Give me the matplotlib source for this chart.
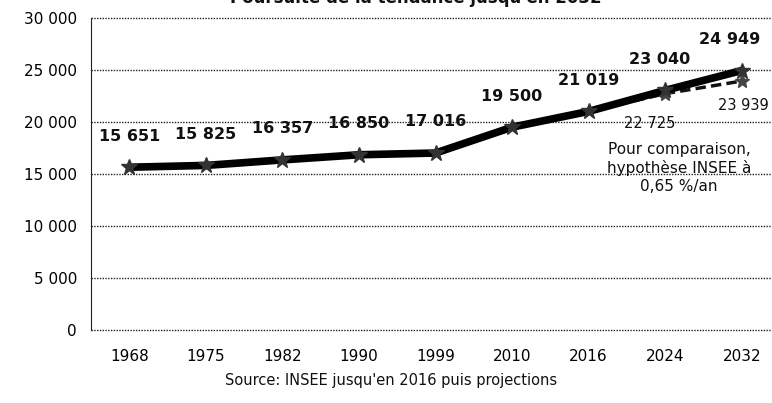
import matplotlib
matplotlib.use("Agg")
import matplotlib.pyplot as plt

years = ["1968", "1975", "1982", "1990", "1999", "2010", "2016", "2024", "2032"]
population = [15651, 15825, 16357, 16850, 17016, 19500, 21019, 23040, 24949]
insee_years = ["2016", "2024", "2032"]
insee_values = [21019, 22725, 23939]
y_ticks = [0, 5000, 10000, 15000, 20000, 25000, 30000]

def fmt(v):
    return f"{v:,}".replace(",", " ")

fig = plt.figure(figsize=(7.72, 4.03), dpi=100)
ax = fig.add_axes([91/772, 73/403, (780-91)/772, 312/403])

xpos = list(range(len(years)))
ins_x = [years.index(y) for y in insee_years]

ax.set_ylim(0, 30000)
ax.set_xlim(-0.5, len(years) - 0.5)
for t in y_ticks:
    ax.axhline(t, color="#222222", lw=1.0, ls=(0, (1, 1)), zorder=1, clip_on=False)

ax.plot(ins_x, insee_values, color="#111111", lw=2.5, ls=(0, (3, 1.5)), zorder=3)
ax.plot(ins_x[1:], insee_values[1:], ls="none", marker="*", ms=11, color="#444444", zorder=3)
ax.plot(xpos, population, color="black", lw=5.5, solid_capstyle="round", zorder=4,
        marker="*", ms=12, markerfacecolor="#333333", markeredgecolor="#333333")

offsets = [(0, 17)] * 7 + [(-4, 17), (-9, 17)]
for i, v in enumerate(population):
    ax.annotate(fmt(v), (i, v), xytext=offsets[i], textcoords="offset points",
                ha="center", va="bottom", fontsize=11.5, fontweight="bold",
                color="#111111", zorder=5)

ax.annotate(fmt(insee_values[1]), (ins_x[1], insee_values[1]), xytext=(-11, -16),
            textcoords="offset points", ha="center", va="top", fontsize=10.5,
            color="#111111")
ax.annotate(fmt(insee_values[2]), (ins_x[2], insee_values[2]), xytext=(1, -12),
            textcoords="offset points", ha="center", va="top", fontsize=10.5,
            color="#111111")

ax.text(7.18, 15577, "Pour comparaison,\nhypothèse INSEE à\n0,65 %/an",
        ha="center", va="center", fontsize=11, color="#111111", linespacing=1.25)

for s in ["top", "right", "bottom"]:
    ax.spines[s].set_visible(False)
ax.spines["left"].set_linestyle((0, (1, 1)))
ax.spines["left"].set_color("#222222")

ax.set_yticks(y_ticks)
ax.set_yticklabels([fmt(t) for t in y_ticks], fontsize=11)
ax.set_xticks(xpos)
ax.set_xticklabels(years, fontsize=11)
ax.tick_params(axis="both", length=0, pad=10)
ax.tick_params(axis="x", pad=14)

fig.text(391/772, 1 - 380/403, "Source: INSEE jusqu'en 2016 puis projections",
         ha="center", va="center", fontsize=10.5, color="#111111")
fig.text(416/772, 1 - 3/403, "Poursuite de la tendance jusqu'en 2032",
         ha="center", va="baseline", fontsize=12, fontweight="bold", color="#111111")

fig.savefig("out.png", dpi=100)
